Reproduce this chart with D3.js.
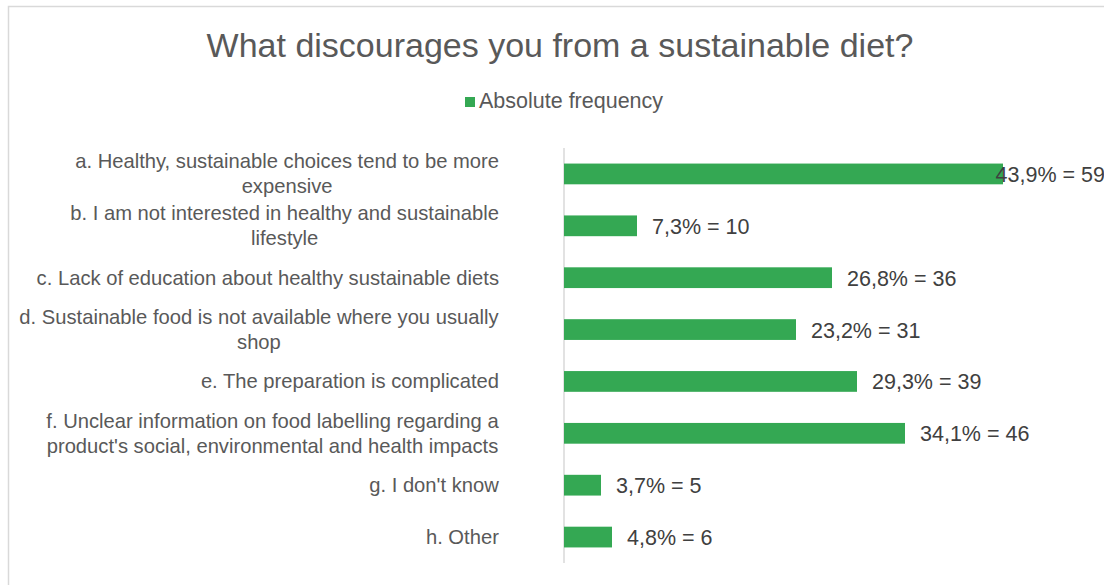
<!DOCTYPE html>
<html>
<head>
<meta charset="utf-8">
<script src="https://cdn.jsdelivr.net/npm/d3@7"></script>
<style>
  html, body { margin: 0; padding: 0; background: #fff; }
  svg { display: block; font-family: "Liberation Sans", Arial, sans-serif; }
</style>
</head>
<body>
<svg id="chart" width="1104" height="585"></svg>
<script>
// data
const categories = [
  "a. Healthy, sustainable choices tend to be more\nexpensive",
  "b. I am not interested in healthy and sustainable\nlifestyle",
  "c. Lack of education about healthy sustainable diets",
  "d. Sustainable food is not available where you usually\nshop",
  "e. The preparation is complicated",
  "f. Unclear information on food labelling regarding a\nproduct's social, environmental and health impacts",
  "g. I don't know",
  "h. Other"
];
const percents = [43.9, 7.3, 26.8, 23.2, 29.3, 34.1, 3.7, 4.8];
const counts = [59, 10, 36, 31, 39, 46, 5, 6];
const xDomain = [0, 50];

const title = 'What discourages you from a sustainable diet?';
const seriesName = 'Absolute frequency';

const W = 1104, H = 585;
const margin = { top: 148, right: 40, bottom: 22, left: 564 };
const green = '#34a853';
const gray = '#595959';
const lightgray = '#d9d9d9';

const data = categories.map((c, i) => ({ cat: c, pct: percents[i], n: counts[i] }));

const svg = d3.select('#chart');

// chart frame
svg.append('rect')
    .attr('x', 8.5)
    .attr('y', 6.5)
    .attr('width', W + 100)
    .attr('height', H + 100)
    .attr('fill', '#fff')
    .attr('stroke', lightgray)
    .attr('stroke-width', 1.5);

// scales
const x = d3.scaleLinear()
    .domain(xDomain)
    .range([margin.left, W - margin.right]);

const y = d3.scaleBand()
    .domain(categories)
    .range([margin.top, H - margin.bottom])
    .paddingInner(0.6)
    .paddingOuter(0.3);

// title
svg.append('text')
    .attr('x', 560)
    .attr('y', 57)
    .attr('text-anchor', 'middle')
    .attr('font-size', 34)
    .attr('fill', gray)
    .text(title);

// legend
const legend = svg.append('g');
legend.append('rect')
    .attr('x', 465)
    .attr('y', 97)
    .attr('width', 10)
    .attr('height', 10)
    .attr('fill', green);
legend.append('text')
    .attr('x', 479)
    .attr('y', 108)
    .attr('font-size', 21.5)
    .attr('fill', gray)
    .text(seriesName);

// y axis (domain line only)
svg.append('g')
    .attr('transform', `translate(${margin.left}, 0)`)
    .call(d3.axisLeft(y).tickSize(0).tickFormat(''))
    .call(g => g.select('.domain')
        .attr('stroke', lightgray)
        .attr('stroke-width', 1.5)
        .attr('d', `M0,${margin.top}V${H - margin.bottom}`));

// category labels: wrapped lines centred on each other, block right-aligned
const labelRight = 499;
const lineGap = 25;
svg.append('g')
    .attr('font-size', 20.2)
    .attr('fill', gray)
  .selectAll('text')
  .data(data)
  .join('text')
    .attr('text-anchor', 'middle')
    .attr('y', d => y(d.cat) + y.bandwidth() / 2)
    .each(function(d) {
      const lines = d.cat.split('\n');
      const t = d3.select(this);
      lines.forEach((line, i) => {
        t.append('tspan')
            .attr('x', 0)
            .attr('dy', i === 0 ? (-(lines.length - 1) / 2) * lineGap + 7 : lineGap)
            .text(line);
      });
      const w = this.getBBox().width;
      t.selectAll('tspan').attr('x', labelRight - w / 2);
    });

// bars
svg.append('g')
  .selectAll('rect')
  .data(data)
  .join('rect')
    .attr('x', x(0))
    .attr('y', d => y(d.cat))
    .attr('width', d => x(d.pct) - x(0))
    .attr('height', y.bandwidth())
    .attr('fill', green);

// value labels
const fmt = v => String(v).replace('.', ',');
svg.append('g')
    .attr('font-size', 21.5)
    .attr('fill', '#404040')
  .selectAll('text')
  .data(data)
  .join('text')
    .attr('y', d => y(d.cat) + y.bandwidth() / 2 + 8)
    .text(d => `${fmt(d.pct)}% = ${d.n}`)
    .each(function(d) {
      const w = this.getComputedTextLength();
      let px = x(d.pct) + 15;
      if (px + w > W) px = W - w + 1;
      d3.select(this).attr('x', px);
    });
</script>
</body>
</html>
